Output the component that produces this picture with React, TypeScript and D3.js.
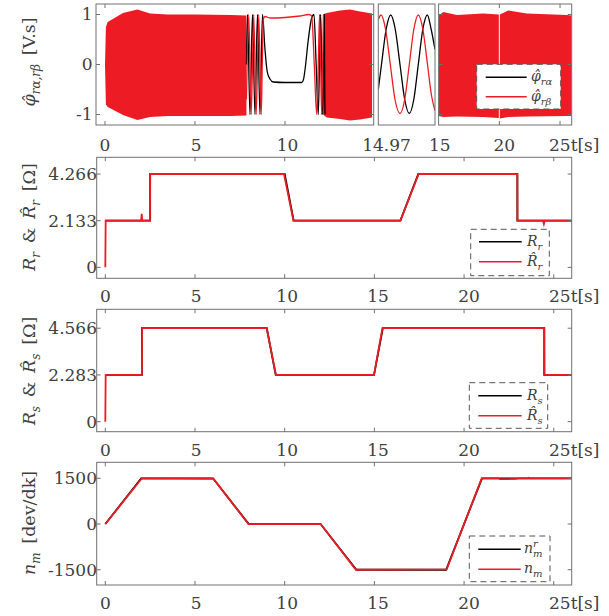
import React from "react";
import * as d3 from "d3";

type Pt = [number, number];

const RED = "#ED1C24";
const BLK = "#000000";
const AXC = "#707070";
const TXC = "#404040";
const SERIF = "DejaVu Serif";
const FS = 17;
const LFS = 14;

// ---------------- Panel 1: estimated rotor flux (V.s) ----------------
// dense high-frequency regions drawn as envelope bands [t, upper, lower]
const fluxBandStart: [number, number, number][] = [
  [0, 0, 0], [0.05, 0.75, -0.8], [0.15, 0.85, -0.85], [1.0, 1.03, -1.01], [1.8, 1.1, -1.11],
  [2.5, 1.02, -1.05], [3.5, 1.0, -1.03], [5, 1.0, -1.03], [7.0, 0.99, -1.03], [7.86, 0.98, -1.02],
];
const fluxBandMid: [number, number, number][] = [
  [12.12, 1.0, -1.0], [12.32, 1.03, -1.06], [13.06, 1.08, -1.09], [13.61, 1.1, -1.12],
  [14.17, 1.06, -1.1], [14.84, 1.02, -1.06],
];
const fluxBandEndA: [number, number, number][] = [
  [15.0, 0.98, -1.03], [15.39, 1.05, -1.05], [16.5, 0.99, -1.04], [18.68, 1.02, -1.05], [19.96, 1.0, -1.07],
];
const fluxBandEndB: [number, number, number][] = [
  [20.04, 1.0, -1.08], [20.74, 1.08, -1.05], [22.26, 1.02, -1.04], [25.55, 0.99, -1.03], [25.96, 0.98, -1.03],
];
// visible slow part around standstill (8 s - 12 s)
const fluxAlphaSlow: Pt[] = [
  [7.861, 0], [7.917, 1], [8.056, -1], [8.194, 1], [8.333, -1], [8.472, 1], [8.611, -1], [8.75, 1],
  [8.889, 0.3], [9.017, -0.15], [9.167, -0.29], [9.35, -0.35], [10.0, -0.36], [10.928, -0.36],
  [11.028, -0.3], [11.111, -0.11], [11.294, 0.49], [11.483, 0.93], [11.611, 1.0], [11.733, 0],
  [11.85, -1], [11.917, 0], [11.983, 1], [12.039, 0], [12.094, -1], [12.139, 0], [12.183, 1], [12.222, -1],
];
const fluxBetaSlow: Pt[] = [
  [7.861, -0.7], [7.986, 1], [8.125, -1], [8.264, 1], [8.403, -1], [8.542, 1], [8.681, -1], [8.739, 0],
  [8.794, 0.9], [8.889, 0.96], [9.167, 0.93], [10.0, 0.94], [10.833, 0.97], [11.333, 1.0], [11.483, 0.97],
  [11.628, 0], [11.761, -1], [11.85, 0], [11.922, 1], [11.983, 0], [12.039, -1], [12.094, 0], [12.139, 1],
];
// zoomed window 14.97 s - 15 s
const fluxAlphaZoom: Pt[] = [
  [14.97, -0.5], [14.97169, 0], [14.97413, 0.7], [14.97656, 0.99], [14.97899, 0.7], [14.98148, 0],
  [14.98397, -0.7], [14.9864, -0.98], [14.98878, -0.7], [14.99116, 0], [14.99354, 0.7], [14.99593, 0.99],
  [14.99799, 0.7], [15.0, 0.3],
];
const fluxBetaZoom: Pt[] = [
  [14.97, 0.9], [14.97143, 0.99], [14.97386, 0.7], [14.97635, 0], [14.97884, -0.7], [14.98148, -0.98],
  [14.98397, -0.7], [14.9864, 0], [14.98878, 0.7], [14.99116, 0.99], [14.9936, 0.7], [14.99603, 0],
  [14.99815, -0.62], [15.0, -0.92],
];

// ---------------- Panel 2: rotor resistance ----------------
const rrRef: Pt[] = [
  [0, 2.133], [2.5, 2.133], [2.5, 4.266], [10, 4.266], [10.5, 2.133], [16.45, 2.133], [17.45, 4.266],
  [22.97, 4.266], [22.97, 2.133], [26, 2.133],
];
const rrEst: Pt[] = [
  [0, 0], [0.02, 2.133], [2.0, 2.133], [2.03, 2.45], [2.06, 2.133], [2.49, 2.133], [2.5, 4.266],
  [9.96, 4.266], [10.49, 2.133], [16.45, 2.133], [17.47, 4.266], [22.97, 4.266], [22.98, 2.133],
  [24.4, 2.133], [24.45, 1.98], [24.5, 2.133], [26, 2.133],
];

// ---------------- Panel 3: stator resistance ----------------
const rsRef: Pt[] = [
  [0, 2.283], [2.04, 2.283], [2.04, 4.566], [9, 4.566], [9.5, 2.283], [14.98, 2.283], [15.47, 4.566],
  [24.47, 4.566], [24.47, 2.283], [26, 2.283],
];
const rsEst: Pt[] = [
  [0, 0], [0.02, 2.283], [2.04, 2.283], [2.05, 4.566], [9.0, 4.566], [9.51, 2.283], [14.98, 2.283],
  [15.45, 4.566], [24.47, 4.566], [24.48, 2.283], [26, 2.283],
];

// ---------------- Panel 4: speed ----------------
const nRef: Pt[] = [
  [0, 0], [2, 1500], [6, 1500], [8, 0], [12, 0], [14, -1500], [19, -1500], [21, 1500], [26, 1500],
];
const nEst: Pt[] = [
  [0, 0], [2.04, 1500], [6.03, 1485], [7.98, 0], [12.01, 0], [13.97, -1500], [19.03, -1490],
  [20.98, 1500], [21.9, 1500], [22.0, 1472], [22.9, 1478], [23.0, 1500], [23.55, 1500], [23.6, 1515],
  [23.65, 1500], [26, 1500],
];

const xTicksMain = [0, 5, 10, 15, 20, 25];

// ---------------------------------------------------------------
function Frame({ x0, x1, y0, y1, xt, yt }: { x0: number; x1: number; y0: number; y1: number; xt: number[]; yt: number[] }) {
  const L = 4;
  return (
    <g stroke={AXC} strokeWidth={1} fill="none">
      <rect x={x0} y={y0} width={x1 - x0} height={y1 - y0} />
      {xt.map((p, i) => (
        <g key={"x" + i}>
          <line x1={p} x2={p} y1={y1} y2={y1 - L} />
          <line x1={p} x2={p} y1={y0} y2={y0 + L} />
        </g>
      ))}
      {yt.map((p, i) => (
        <g key={"y" + i}>
          <line x1={x0} x2={x0 + L} y1={p} y2={p} />
          <line x1={x1} x2={x1 - L} y1={p} y2={p} />
        </g>
      ))}
    </g>
  );
}

// italic symbol (optional combining hat) with subscript / superscript and an optional upright tail
function Sym({ base, hat, sub, sup, size, subSize, tail }: { base: string; hat?: boolean; sub?: string; sup?: string; size: number; subSize: number; tail?: string }) {
  const d = Math.round(size * 0.28);
  const u = Math.round(size * 0.4);
  return (
    <>
      <tspan fontStyle="italic" fontSize={size}>{base + (hat ? "\u0302" : "")}</tspan>
      {sup ? <tspan fontStyle="italic" fontSize={subSize} dy={-u}>{sup}</tspan> : null}
      {sub ? (
        <tspan fontStyle="italic" fontSize={subSize} dx={sup ? -subSize * 0.48 : 0} dy={sup ? u + d : d}>{sub}</tspan>
      ) : null}
      {tail ? <tspan fontStyle="normal" fontSize={size} dy={sub ? -d : sup ? u : 0}>{tail}</tspan> : null}
    </>
  );
}

function Legend({ x, y, w, h, rows, lx0, lx1, tx }: any) {
  return (
    <g>
      <rect x={x} y={y} width={w} height={h} fill="#fff" stroke="#555" strokeWidth={1} strokeDasharray="6,4" />
      {rows.map((r: any, i: number) => (
        <g key={i}>
          <line x1={lx0} x2={lx1} y1={r.y} y2={r.y} stroke={r.color} strokeWidth={1.4} />
          <text x={tx} y={r.y + 4} fontSize={LFS} style={{ fontFamily: SERIF }} fill={TXC}>
            <Sym base={r.base} hat={r.hat} sub={r.sub} sup={r.sup} size={LFS} subSize={10} />
          </text>
        </g>
      ))}
    </g>
  );
}

const txt = { fontFamily: SERIF } as const;

export default function App() {
  // -------- panel 1 scales --------
  const p1Top = 4, p1Bot = 125;
  const y1 = d3.scaleLinear().domain([-1.21, 1.21]).range([p1Bot, p1Top]);
  const xA = d3.scaleLinear().domain([-0.5, 14.93]).range([96, 373.7]);
  const xB = d3.scaleLinear().domain([14.97, 15]).range([378.3, 435]);
  const xC = d3.scaleLinear().domain([15, 25.96]).range([438.6, 571.7]);

  const bandPath = (xs: d3.ScaleLinear<number, number>, data: [number, number, number][]) =>
    d3.area<[number, number, number]>().x((d) => xs(d[0])).y0((d) => y1(d[2])).y1((d) => y1(d[1]))(data) || "";
  const oscPath = (xs: d3.ScaleLinear<number, number>, data: Pt[]) =>
    d3.line<Pt>().x((d) => xs(d[0])).y((d) => y1(d[1])).curve(d3.curveMonotoneX)(data) || "";

  // -------- panels 2-4 --------
  const x = d3.scaleLinear().domain([-0.48, 26]).range([96.7, 571.7]);
  const panels = [
    { top: 157.3, bot: 278.3, dom: [-0.5, 5.03], ticks: [0, 2.133, 4.266], labels: ["0", "2.133", "4.266"], ref: rrRef, est: rrEst },
    { top: 309.3, bot: 431.7, dom: [-0.49, 5.49], ticks: [0, 2.283, 4.566], labels: ["0", "2.283", "4.566"], ref: rsRef, est: rsEst },
    { top: 462.3, bot: 585, dom: [-2000, 2025], ticks: [-1500, 0, 1500], labels: ["-1500", "0", "1500"], ref: nRef, est: nEst },
  ];

  const tickLabel = (t: number, px: number, base: number, key: string) =>
    t === 25 ? (
      <text key={key} x={549} y={base} style={txt} fontSize={FS} fill={TXC}>25t[s]</text>
    ) : (
      <text key={key} x={px} y={base} textAnchor="middle" style={txt} fontSize={FS} fill={TXC}>{t}</text>
    );

  const YS = 17.5, YSub = 12;

  return (
    <svg width={609} height={616} style={{ position: "absolute", left: 0, top: 0, background: "#fff" }}>
      <defs>
        <clipPath id="cA"><rect x={96} y={p1Top} width={373.7 - 96} height={p1Bot - p1Top} /></clipPath>
        <clipPath id="cB"><rect x={378.3} y={p1Top} width={435 - 378.3} height={p1Bot - p1Top} /></clipPath>
        <clipPath id="cC"><rect x={438.6} y={p1Top} width={571.7 - 438.6} height={p1Bot - p1Top} /></clipPath>
      </defs>
      <rect x={0} y={0} width={609} height={616} fill="#fff" />

      {/* ---------------- Panel 1 ---------------- */}
      <g clipPath="url(#cA)">
        <path d={bandPath(xA, fluxBandStart)} fill={RED} />
        <path d={bandPath(xA, fluxBandMid)} fill={RED} />
        <path d={oscPath(xA, fluxAlphaSlow)} fill="none" stroke={BLK} strokeWidth={1.3} />
        <path d={oscPath(xA, fluxBetaSlow)} fill="none" stroke={RED} strokeWidth={1.3} />
      </g>
      <g clipPath="url(#cB)">
        <path d={oscPath(xB, fluxAlphaZoom)} fill="none" stroke={BLK} strokeWidth={1.3} />
        <path d={oscPath(xB, fluxBetaZoom)} fill="none" stroke={RED} strokeWidth={1.3} />
      </g>
      <g clipPath="url(#cC)">
        <path d={bandPath(xC, fluxBandEndA)} fill={RED} />
        <path d={bandPath(xC, fluxBandEndB)} fill={RED} />
      </g>
      <Frame x0={96} x1={373.7} y0={p1Top} y1={p1Bot} xt={[0, 5, 10].map((t) => xA(t))} yt={[-1, 0, 1].map((v) => y1(v))} />
      <Frame x0={378.3} x1={435} y0={p1Top} y1={p1Bot} xt={[]} yt={[]} />
      <Frame x0={438.6} x1={571.7} y0={p1Top} y1={p1Bot} xt={[20, 25].map((t) => xC(t))} yt={[-1, 0, 1].map((v) => y1(v))} />
      {[-1, 0, 1].map((v) => (
        <text key={v} x={92.5} y={y1(v)} dy="0.35em" textAnchor="end" style={txt} fontSize={FS} fill={TXC}>{v}</text>
      ))}
      {[0, 5, 10].map((t) => tickLabel(t, xA(t) + 0.25 * t, 150.5, "a" + t))}
      <text x={xB(14.97) + 8.2} y={150.5} textAnchor="middle" style={txt} fontSize={FS} fill={TXC}>14.97</text>
      <text x={xC(15) + 1.1} y={150.5} textAnchor="middle" style={txt} fontSize={FS} fill={TXC}>15</text>
      {[20, 25].map((t) => tickLabel(t, xC(t) + 5, 150.5, "c" + t))}
      <Legend x={476.7} y={64.3} w={84} h={44.7} lx0={485.7} lx1={526.7} tx={531}
        rows={[
          { y: 77.3, color: BLK, base: "φ", hat: true, sub: "rα" },
          { y: 96.7, color: RED, base: "φ", hat: true, sub: "rβ" },
        ]} />
      <text transform="translate(35,62) rotate(-90)" textAnchor="middle" fontSize={YS} style={txt} fill={TXC}>
        <Sym base="φ" hat sub="rα,rβ" size={YS} subSize={YSub} tail={"\u2002[V.s]"} />
      </text>

      {/* ---------------- Panels 2-4 ---------------- */}
      {panels.map((p, i) => {
        const y = d3.scaleLinear().domain(p.dom).range([p.bot, p.top]);
        const ln = d3.line<Pt>().x((d) => x(d[0])).y((d) => y(d[1]));
        return (
          <g key={i}>
            <path d={ln(p.ref) || ""} fill="none" stroke={BLK} strokeWidth={1.8} />
            <path d={ln(p.est) || ""} fill="none" stroke={RED} strokeWidth={1.8} />
            <Frame x0={96.7} x1={571.7} y0={p.top} y1={p.bot} xt={xTicksMain.map((t) => x(t))} yt={p.ticks.map((v) => y(v))} />
            {p.ticks.map((v, j) => (
              <text key={j} x={97} y={y(v)} dy="0.35em" textAnchor="end" style={txt} fontSize={FS} fill={TXC}>{p.labels[j]}</text>
            ))}
            {xTicksMain.map((t) => tickLabel(t, x(t) + 0.25 * t, p.bot + 24, "t" + t))}
          </g>
        );
      })}

      <Legend x={470.7} y={229.3} w={78.6} h={46.4} lx0={479} lx1={521.7} tx={527}
        rows={[
          { y: 241.7, color: BLK, base: "R", sub: "r" },
          { y: 261.7, color: RED, base: "R", hat: true, sub: "r" },
        ]} />
      <Legend x={469.3} y={382.7} w={78.4} h={45.6} lx0={478.3} lx1={521.7} tx={527}
        rows={[
          { y: 395.7, color: BLK, base: "R", sub: "s" },
          { y: 415.7, color: RED, base: "R", hat: true, sub: "s" },
        ]} />
      <Legend x={469.3} y={536} w={80.7} h={45.7} lx0={478.3} lx1={520.7} tx={524}
        rows={[
          { y: 549.3, color: BLK, base: "n", sup: "r", sub: "m" },
          { y: 569.3, color: RED, base: "n", sub: "m" },
        ]} />

      <text transform="translate(35,217) rotate(-90)" textAnchor="middle" fontSize={YS} style={txt} fill={TXC}>
        <Sym base="R" sub="r" size={YS} subSize={YSub} tail={"\u2002&\u2002"} />
        <Sym base="R" hat sub="r" size={YS} subSize={YSub} tail={"\u2002[Ω]"} />
      </text>
      <text transform="translate(35,371) rotate(-90)" textAnchor="middle" fontSize={YS} style={txt} fill={TXC}>
        <Sym base="R" sub="s" size={YS} subSize={YSub} tail={"\u2002&\u2002"} />
        <Sym base="R" hat sub="s" size={YS} subSize={YSub} tail={"\u2002[Ω]"} />
      </text>
      <text transform="translate(35,523) rotate(-90)" textAnchor="middle" fontSize={YS} style={txt} fill={TXC}>
        <Sym base="n" sub="m" size={YS} subSize={YSub} tail={"\u2002[dev/dk]"} />
      </text>
    </svg>
  );
}
